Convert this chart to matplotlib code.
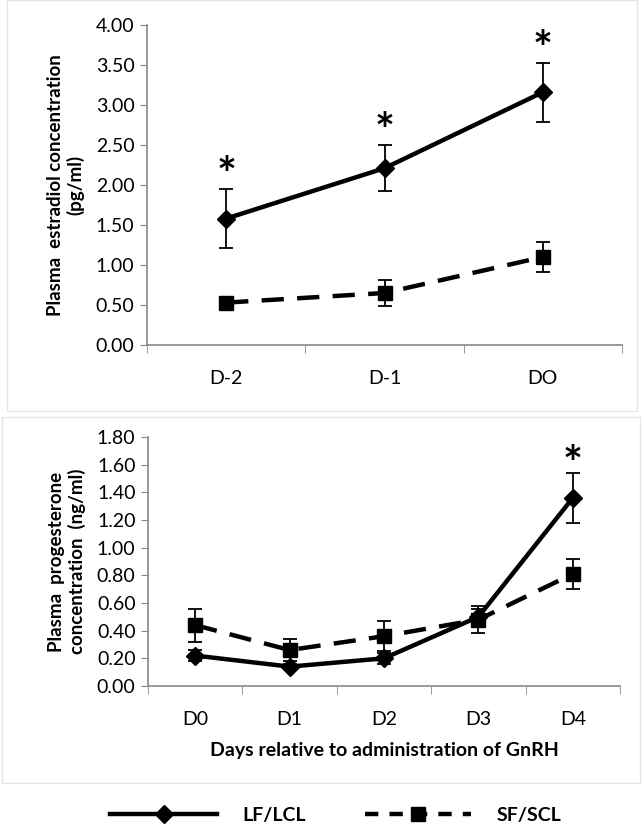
import numpy as np
import matplotlib as mpl
mpl.use('agg')
import matplotlib.pyplot as plt
from matplotlib.lines import Line2D
from matplotlib.patches import Rectangle

plt.rcParams['font.family'] = ['Lato', 'DejaVu Sans']

# estradiol panel
e2_days = ['D-2', 'D-1', 'DO']
e2_lf = [1.58, 2.21, 3.16]
e2_lf_err = [0.37, 0.29, 0.37]
e2_sf = [0.53, 0.65, 1.10]
e2_sf_err = [0.00, 0.16, 0.19]
e2_star = [True, True, True]

# progesterone panel
p4_days = ['D0', 'D1', 'D2', 'D3', 'D4']
p4_lf = [0.22, 0.14, 0.20, 0.50, 1.36]
p4_lf_err = [0.04, 0.02, 0.04, 0.06, 0.18]
p4_sf = [0.44, 0.26, 0.36, 0.48, 0.81]
p4_sf_err = [0.12, 0.08, 0.11, 0.10, 0.11]
p4_star = [False, False, False, False, True]

W, H = 644, 835
fig = plt.figure(figsize=(W / 100, H / 100), dpi=100)

# faint panel frames
for (x0, y0, x1, y1) in [(7, 0, 637, 411), (2, 417, 640, 783)]:
    fig.add_artist(Rectangle((x0 / W, 1 - y1 / H), (x1 - x0) / W, (y1 - y0) / H,
                             transform=fig.transFigure, fill=False,
                             edgecolor='#e6e6e6', linewidth=1))

ax1 = fig.add_axes([147 / W, 1 - 345 / H, (622 - 147) / W, (345 - 25) / H])
ax2 = fig.add_axes([148 / W, 1 - 686 / H, (620 - 148) / W, (686 - 437) / H])


def panel(ax, days, lf, lf_err, sf, sf_err, stars, ymax, ystep, star_off):
    x = np.arange(len(days))
    ax.errorbar(x, lf, yerr=lf_err, color='black', lw=3.2, marker='D', ms=9,
                elinewidth=1.3, capsize=5, capthick=1.3, zorder=3)
    ax.errorbar(x, sf, yerr=sf_err, color='black', lw=3.2, marker='s', ms=10,
                ls=(0, (5, 3)), elinewidth=1.3, capsize=5, capthick=1.3, zorder=3)
    for i, s in enumerate(stars):
        if s:
            ax.text(x[i], lf[i] + lf_err[i] + star_off, '*', ha='center',
                    va='center', fontsize=34, fontweight='bold')
    ax.set_xlim(-0.5, len(days) - 0.5)
    ax.set_ylim(0, ymax)
    ax.set_yticks(np.arange(0, ymax + ystep / 2, ystep))
    ax.set_yticklabels(['%.2f' % v for v in np.arange(0, ymax + ystep / 2, ystep)])
    ax.set_xticks(x)
    ax.set_xticklabels(days)
    ax.set_xticks(np.arange(-0.5, len(days)), minor=True)
    ax.tick_params(axis='x', which='major', length=0, pad=18, labelsize=14)
    ax.tick_params(axis='x', which='minor', length=6, color='#888888', direction='out')
    ax.tick_params(axis='y', length=5, color='#888888', labelsize=14, pad=4)
    for sp in ['top', 'right']:
        ax.spines[sp].set_visible(False)
    for sp in ['left', 'bottom']:
        ax.spines[sp].set_color('#888888')
        ax.spines[sp].set_linewidth(1.2)


panel(ax1, e2_days, e2_lf, e2_lf_err, e2_sf, e2_sf_err, e2_star, 4.0, 0.5, 0.15)
panel(ax2, p4_days, p4_lf, p4_lf_err, p4_sf, p4_sf_err, p4_star, 1.8, 0.2, 0.05)

ax1.set_ylabel('Plasma  estradiol concentration\n(pg/ml)', fontsize=13.5,
               fontweight='bold', labelpad=8)
ax2.set_ylabel('Plasma  progesterone\nconcentration  (ng/ml)', fontsize=13.5,
               fontweight='bold', labelpad=8)
ax2.set_xlabel('Days relative to administration of GnRH', fontsize=14,
               fontweight='bold', labelpad=10)

handles = [
    Line2D([], [], color='black', lw=3.2, marker='D', ms=9),
    Line2D([], [], color='black', lw=3.2, marker='s', ms=10, ls=(0, (3, 2.5))),
]
fig.legend(handles, ['LF/LCL', 'SF/SCL'], loc='center', ncol=2,
           bbox_to_anchor=(336 / W, 1 - 815 / H), frameon=False,
           prop={'size': 14, 'weight': 'bold'}, handlelength=5.5,
           handletextpad=1.3, columnspacing=3.0)

fig.savefig('out.png', dpi=100)
